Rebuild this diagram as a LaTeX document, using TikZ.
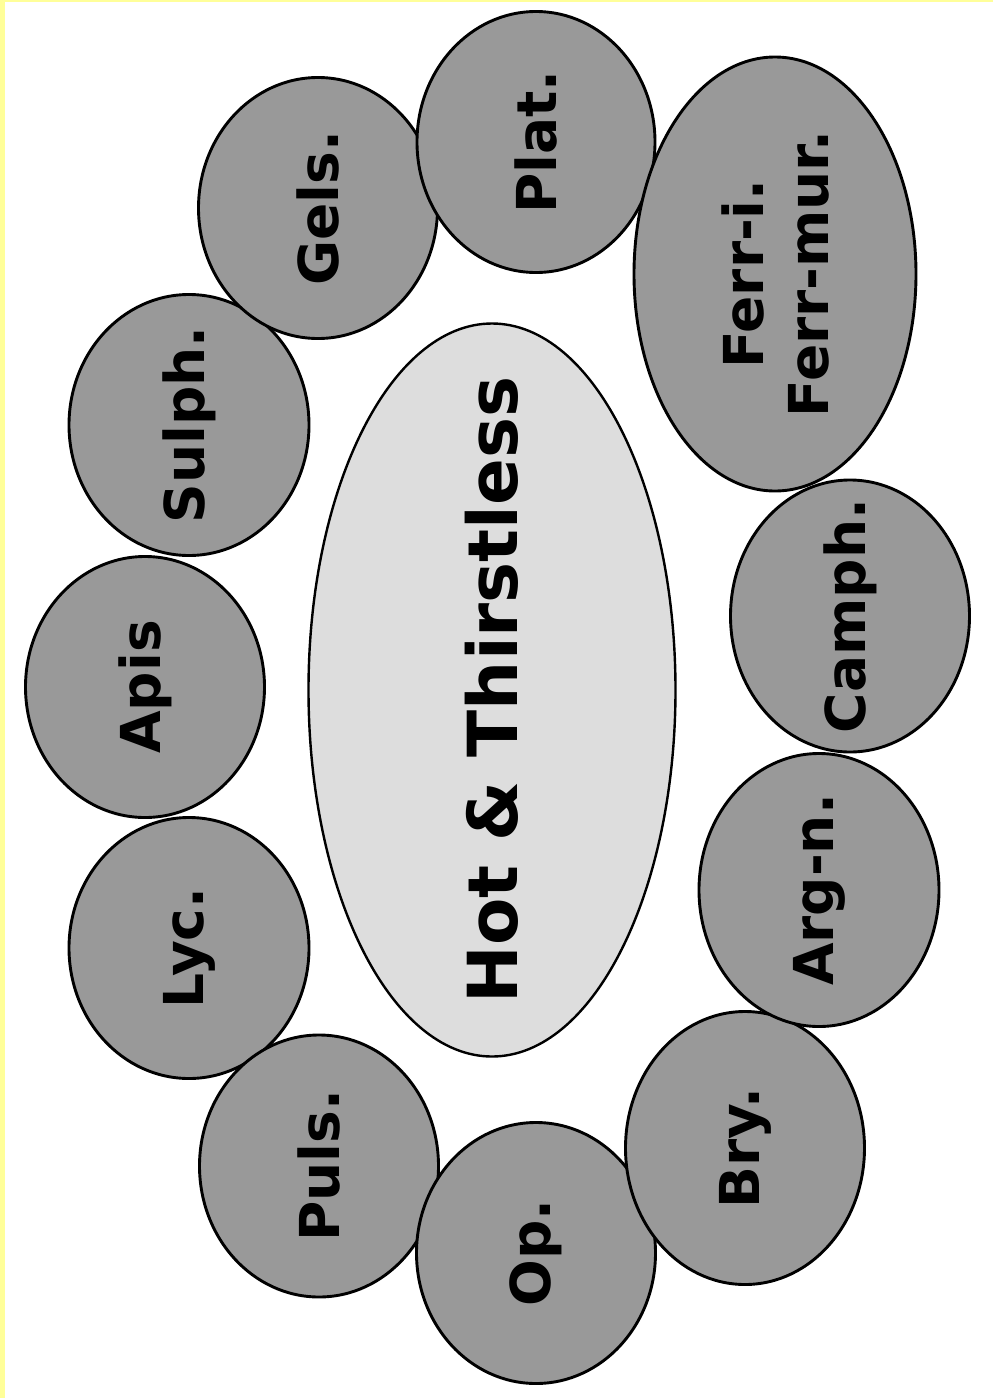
\documentclass[tikz,border=0pt]{standalone}
\usepackage{fontspec}
\setmainfont{DejaVu Sans}
\usetikzlibrary{shapes.geometric}
\definecolor{bubble}{HTML}{999999}
\definecolor{core}{HTML}{DDDDDD}
\definecolor{strip}{HTML}{FFFF99}
\begin{document}
\begin{tikzpicture}[x=1pt,y=-1pt,
  bub/.style={ellipse, draw=black, line width=2.9pt, fill=bubble, inner sep=0pt, outer sep=0pt},
  hub/.style={ellipse, draw=black, line width=2.4pt, fill=core, inner sep=0pt, outer sep=0pt},
  lab/.style={rotate=90, inner sep=0pt, align=center, font=\bfseries\fontsize{55}{65}\selectfont},
  biglab/.style={rotate=90, inner sep=0pt, font=\bfseries\fontsize{69}{80}\selectfont}]
\useasboundingbox (0,0) rectangle (993,1398);
\fill[white] (0,0) rectangle (993,1398);
\fill[strip] (0,0) rectangle (5,1398);
\fill[strip] (0,0) rectangle (993,2);
\node[hub, minimum width=367pt, minimum height=733pt] (c) at (492,690) {};
\node[biglab] (ct) at (c.center) {Hot \& Thirstless};
% bubbles
\node[bub, minimum width=240pt, minimum height=261pt] (lyc) at (189,948) {};
\node[bub, minimum width=240pt, minimum height=261pt] (sulph) at (189,425) {};
\node[bub, minimum width=239pt, minimum height=261pt] (gels) at (318,208) {};
\node[bub, minimum width=238pt, minimum height=261pt] (plat) at (536,142) {};
\node[bub, minimum width=282pt, minimum height=434pt] (ferr) at (775,274) {};
\node[bub, minimum width=239pt, minimum height=272pt] (camph) at (850,616) {};
\node[bub, minimum width=239pt, minimum height=262pt] (puls) at (319,1166) {};
\node[bub, minimum width=239pt, minimum height=261pt] (op) at (536,1253) {};
\node[bub, minimum width=239pt, minimum height=273pt] (bry) at (745,1148) {};
\node[bub, minimum width=240pt, minimum height=273pt] (argn) at (819,890) {};
\node[bub, minimum width=239pt, minimum height=261pt] (apis) at (145,687) {};
% labels
\node[lab] (lycT) at (lyc.center) {Lyc.};
\node[lab] (sulphT) at (sulph.center) {Sulph.};
\node[lab] (gelsT) at (gels.center) {Gels.};
\node[lab] (platT) at (plat.center) {Plat.};
\node[lab] (ferrT) at (ferr.center) {Ferr-i.\\Ferr-mur.};
\node[lab] (camphT) at (camph.center) {Camph.};
\node[lab] (pulsT) at (puls.center) {Puls.};
\node[lab] (opT) at (op.center) {Op.};
\node[lab] (bryT) at (bry.center) {Bry.};
\node[lab] (argnT) at (argn.center) {Arg-n.};
\node[lab] (apisT) at (apis.center) {Apis};
\end{tikzpicture}
\end{document}
